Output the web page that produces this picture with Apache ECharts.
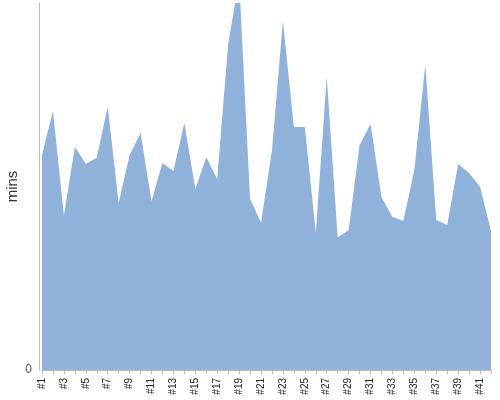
<!DOCTYPE html>
<html>
<head>
<meta charset="utf-8">
<script src="https://cdn.jsdelivr.net/npm/echarts@6/dist/echarts.min.js"></script>
<style>
  html, body { margin: 0; padding: 0; background: #fff; }
  #chart { width: 500px; height: 400px; }
</style>
</head>
<body>
<div id="chart"></div>
<script>
// 数据
const categories = []
for (let i = 1; i <= 42; i++) categories.push('#' + i)

const minutes = [
  58.6, 70.6, 42.0, 60.8, 56.1, 57.8, 71.7, 45.5, 58.6, 64.6,
  46.0, 56.4, 54.2, 67.3, 49.3, 58.0, 52.0, 88.8, 106.3, 46.6,
  40.1, 59.9, 95.1, 66.2, 66.2, 37.3, 79.8, 36.2, 38.1, 61.3,
  67.0, 47.1, 41.7, 40.6, 54.5, 83.1, 40.9, 39.5, 56.1, 53.7,
  49.9, 37.9
]

const yMin = 0
const yMax = 100

const chart = echarts.init(document.getElementById('chart'))

chart.setOption({
  animation: false,
  textStyle: { fontFamily: 'Liberation Sans, Arial, sans-serif' },
  grid: { left: 42, right: 9, top: 3, bottom: 30, containLabel: false, outerBoundsMode: 'none' },
  xAxis: {
    type: 'category',
    data: categories,
    boundaryGap: false,
    offset: 4,
    axisLine: { lineStyle: { color: '#bbbbbb', width: 1 } },
    axisTick: { show: true, interval: 0, length: 4, lineStyle: { color: '#bbbbbb' } },
    axisLabel: {
      interval: 1,
      rotate: 90,
      fontSize: 10,
      color: '#222',
      margin: 4
    },
    splitLine: { show: false }
  },
  yAxis: {
    type: 'value',
    min: yMin,
    max: yMax,
    interval: 100,
    offset: 3,
    name: 'mins',
    nameLocation: 'middle',
    nameGap: 19,
    nameMoveOverlap: false,
    nameTextStyle: { fontSize: 15, color: '#333' },
    axisLine: { show: true, lineStyle: { color: '#bbbbbb', width: 1 } },
    axisTick: { show: false },
    axisLabel: { showMaxLabel: false, fontSize: 12, color: '#555', margin: 7 },
    splitLine: { show: false }
  },
  series: [{
    type: 'line',
    data: minutes,
    symbol: 'none',
    lineStyle: { width: 0 },
    areaStyle: { color: '#8fb1da', opacity: 1 },
    clip: true
  }]
})
</script>
</body>
</html>
